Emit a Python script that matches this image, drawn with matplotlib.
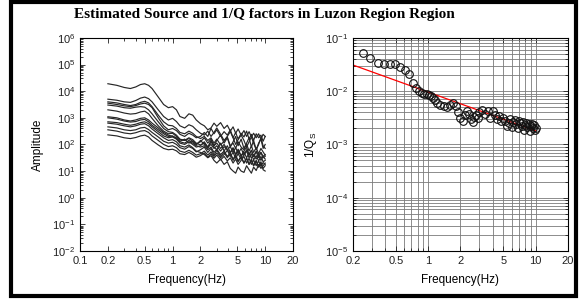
import matplotlib.pyplot as plt
import matplotlib.ticker as mticker
from matplotlib.patches import Rectangle

# Source spectra (left panel): frequency in Hz, amplitude as log10 values.
spec_freq = [0.2, 0.25, 0.3, 0.35, 0.4, 0.45, 0.5, 0.55, 0.6, 0.7, 0.8, 0.9, 1.0, 1.1,
             1.2, 1.35, 1.5, 1.65, 1.8, 2.0, 2.2, 2.4, 2.6, 2.8, 3.0, 3.3, 3.6, 3.9,
             4.2, 4.5, 4.8, 5.1, 5.5, 5.9, 6.3, 6.7, 7.1, 7.5, 8.0, 8.5, 9.0, 9.5, 10.0]

spec_log_amp = [
    [4.28, 4.22, 4.14, 4.10, 4.16, 4.25, 4.28, 4.22, 4.10, 3.78, 3.50, 3.38, 3.42, 3.30,
     3.05, 2.98, 3.15, 3.10, 2.92, 2.78, 2.70, 2.55, 2.62, 2.80, 2.68, 2.82, 2.60, 2.72,
     2.50, 2.66, 2.42, 2.58, 2.35, 2.52, 2.30, 2.48, 2.28, 2.42, 2.25, 2.40, 2.20, 2.38, 2.30],
    [3.70, 3.66, 3.60, 3.58, 3.65, 3.74, 3.78, 3.72, 3.60, 3.30, 3.05, 2.92, 2.98, 2.86,
     2.70, 2.62, 2.74, 2.68, 2.55, 2.42, 2.35, 2.50, 2.30, 2.45, 2.62, 2.38, 2.15, 2.30,
     2.48, 2.25, 2.00, 2.18, 2.35, 2.15, 1.90, 2.10, 2.28, 2.05, 1.80, 2.00, 2.25, 1.95, 1.85],
    [3.60, 3.56, 3.50, 3.46, 3.50, 3.58, 3.62, 3.56, 3.42, 3.10, 2.85, 2.72, 2.70, 2.60,
     2.45, 2.40, 2.50, 2.42, 2.30, 2.22, 2.30, 2.15, 2.25, 2.05, 2.20, 1.98, 2.12, 2.28,
     1.95, 2.05, 1.85, 2.10, 1.90, 1.80, 2.02, 1.75, 1.95, 1.70, 1.88, 1.65, 1.85, 1.72, 1.60],
    [3.55, 3.50, 3.45, 3.42, 3.46, 3.52, 3.55, 3.50, 3.38, 3.00, 2.70, 2.55, 2.60, 2.52,
     2.38, 2.30, 2.42, 2.35, 2.25, 2.30, 2.45, 2.30, 2.60, 2.40, 2.55, 2.30, 2.48, 2.35,
     2.55, 2.25, 2.45, 2.20, 2.42, 2.28, 2.50, 2.20, 2.38, 2.15, 2.40, 2.25, 2.35, 2.12, 2.30],
    [3.48, 3.44, 3.38, 3.36, 3.40, 3.42, 3.40, 3.30, 3.15, 2.85, 2.60, 2.48, 2.45, 2.35,
     2.20, 2.15, 2.25, 2.18, 2.05, 1.98, 2.05, 1.90, 2.00, 1.85, 1.95, 1.75, 1.92, 1.80,
     1.68, 1.85, 1.60, 1.78, 1.55, 1.72, 1.50, 1.68, 1.48, 1.62, 1.45, 1.60, 1.40, 1.55, 1.45],
    [3.30, 3.25, 3.18, 3.14, 3.16, 3.22, 3.25, 3.15, 2.98, 2.70, 2.50, 2.40, 2.42, 2.30,
     2.18, 2.15, 2.22, 2.12, 2.02, 2.10, 2.25, 2.05, 2.20, 1.95, 2.15, 2.35, 2.05, 2.25,
     1.90, 2.10, 2.30, 1.95, 2.20, 1.85, 2.05, 2.25, 1.90, 2.15, 1.80, 2.05, 2.20, 1.85, 2.00],
    [3.04, 3.00, 2.92, 2.88, 2.92, 2.98, 3.00, 2.92, 2.80, 2.62, 2.45, 2.35, 2.30, 2.25,
     2.12, 2.20, 2.05, 2.12, 1.98, 2.15, 2.00, 1.85, 2.10, 1.90, 1.80, 2.05, 1.75, 1.95,
     1.70, 1.88, 1.62, 1.82, 1.58, 1.75, 1.90, 1.60, 1.78, 1.55, 1.72, 1.50, 1.70, 1.55, 1.62],
    [3.00, 2.95, 2.88, 2.84, 2.86, 2.92, 2.94, 2.85, 2.72, 2.55, 2.40, 2.30, 2.32, 2.22,
     2.10, 2.05, 2.15, 2.05, 1.95, 1.90, 1.95, 1.80, 1.90, 1.70, 1.82, 1.62, 1.75, 1.55,
     1.68, 1.45, 1.60, 1.38, 1.55, 1.30, 1.48, 1.25, 1.40, 1.20, 1.38, 1.15, 1.30, 1.10, 1.20],
    [2.85, 2.82, 2.76, 2.72, 2.76, 2.82, 2.85, 2.78, 2.66, 2.48, 2.32, 2.25, 2.28, 2.20,
     2.05, 2.00, 2.10, 2.00, 1.90, 1.95, 2.10, 1.90, 2.15, 1.95, 2.05, 1.85, 2.00, 1.80,
     1.92, 1.70, 1.88, 1.65, 1.85, 1.60, 1.80, 1.62, 1.78, 1.55, 1.75, 1.60, 1.70, 1.50, 1.55],
    [2.80, 2.76, 2.70, 2.66, 2.70, 2.76, 2.78, 2.70, 2.58, 2.40, 2.25, 2.15, 2.18, 2.10,
     1.95, 1.90, 1.98, 1.88, 1.75, 1.70, 1.62, 1.50, 1.58, 1.40, 1.30, 1.45, 1.25, 1.35,
     1.10, 1.00, 0.92, 1.15, 1.00, 0.95, 1.20, 1.05, 0.92, 1.15, 1.02, 1.25, 1.10, 1.20, 1.30],
    [2.66, 2.62, 2.55, 2.52, 2.55, 2.62, 2.64, 2.56, 2.45, 2.28, 2.12, 2.05, 2.08, 2.00,
     1.88, 1.82, 1.92, 1.85, 1.72, 1.80, 1.90, 1.70, 1.85, 1.60, 1.78, 1.55, 1.70, 1.50,
     1.65, 1.40, 1.58, 1.35, 1.52, 1.30, 1.48, 1.25, 1.45, 1.20, 1.40, 1.15, 1.35, 1.05, 1.00],
    [2.55, 2.50, 2.43, 2.40, 2.44, 2.50, 2.52, 2.45, 2.32, 2.15, 2.00, 1.92, 1.95, 1.88,
     1.75, 1.70, 1.78, 1.70, 1.60, 1.65, 1.75, 1.60, 1.72, 1.55, 1.68, 1.50, 1.62, 1.78,
     1.55, 1.70, 1.48, 1.65, 1.45, 1.60, 1.75, 1.50, 1.65, 1.42, 1.58, 1.38, 1.55, 1.35, 1.40],
    [2.36, 2.32, 2.25, 2.22, 2.26, 2.32, 2.35, 2.28, 2.15, 1.98, 1.85, 1.80, 1.82, 1.76,
     1.65, 1.62, 1.70, 1.62, 1.52, 1.58, 1.68, 1.52, 1.65, 1.48, 1.60, 1.42, 1.55, 1.38,
     1.50, 1.30, 1.45, 1.25, 1.40, 1.55, 1.30, 1.48, 1.25, 1.42, 1.20, 1.38, 1.18, 1.32, 1.25],
]

# 1/Qs estimates (right panel)
q_freq = [0.25, 0.29, 0.34, 0.39, 0.44, 0.49, 0.55, 0.61, 0.66, 0.72, 0.77, 0.82, 0.87,
          0.92, 0.97, 1.02, 1.07, 1.12, 1.17, 1.22, 1.3, 1.4, 1.5, 1.6, 1.7, 1.8, 1.9,
          2.0, 2.1, 2.2, 2.3, 2.4, 2.5, 2.6, 2.7, 2.8, 2.9, 3.0, 3.2, 3.4, 3.6, 3.8,
          4.0, 4.2, 4.4, 4.6, 4.8, 5.0, 5.2, 5.4, 5.6, 5.8, 6.0, 6.2, 6.4, 6.6, 6.8,
          7.0, 7.2, 7.4, 7.6, 7.8, 8.0, 8.2, 8.4, 8.6, 8.8, 9.0, 9.2, 9.4, 9.6, 9.8, 10.0]
q_inv = [0.052, 0.042, 0.034, 0.033, 0.033, 0.032, 0.029, 0.025, 0.021, 0.0145, 0.0115,
         0.0100, 0.0094, 0.0090, 0.0088, 0.0084, 0.0080, 0.0076, 0.0068, 0.0060, 0.0055,
         0.0052, 0.0050, 0.0056, 0.0060, 0.0052, 0.0041, 0.0032, 0.0028, 0.0036, 0.0042,
         0.0038, 0.0030, 0.0026, 0.0033, 0.0036, 0.0031, 0.0040, 0.0045, 0.0038, 0.0042,
         0.0032, 0.0043, 0.0036, 0.0030, 0.0034, 0.0028, 0.0032, 0.0027, 0.0022, 0.0025,
         0.0030, 0.0021, 0.0026, 0.0029, 0.0024, 0.0020, 0.0027, 0.0025, 0.0022, 0.0026,
         0.0019, 0.0023, 0.0025, 0.0021, 0.0024, 0.0018, 0.0022, 0.0024, 0.0020, 0.0023,
         0.0019, 0.0020]

# fitted power law end points
fit_freq = [0.2, 10.0]
fit_inv = [0.031, 0.0018]

left_xticks = [0.1, 0.2, 0.5, 1, 2, 5, 10, 20]
right_xticks = [0.2, 0.5, 1, 2, 5, 10, 20]

plt.rcParams['font.family'] = ['Liberation Sans', 'DejaVu Sans']
plt.rcParams['mathtext.fontset'] = 'custom'
plt.rcParams['mathtext.rm'] = 'Liberation Sans'
plt.rcParams['mathtext.it'] = 'Liberation Sans:italic'

fig = plt.figure(figsize=(5.82, 3.06), dpi=100)
fig.patch.set_facecolor('white')

fig.patches.append(Rectangle((0.019, 0.033), 0.971, 0.960, transform=fig.transFigure,
                             fill=False, edgecolor='black', linewidth=3))

fig.text(0.455, 0.952, "Estimated Source and 1/Q factors in Luzon Region Region",
         ha='center', va='center', fontsize=11, fontweight='bold',
         family=['Liberation Serif', 'DejaVu Serif'])

ax1 = fig.add_axes([0.1375, 0.180, 0.366, 0.696])
ax2 = fig.add_axes([0.6065, 0.180, 0.3694, 0.696])

for row in spec_log_amp:
    ax1.plot(spec_freq, [10 ** v for v in row], color='#262626', linewidth=0.85)

ax2.plot(fit_freq, fit_inv, color='red', linewidth=0.9, zorder=2)
ax2.plot(q_freq, q_inv, linestyle='none', marker='o', markersize=5.5,
         markerfacecolor='none', markeredgecolor='#111111', markeredgewidth=0.8, zorder=3)

for ax in (ax1, ax2):
    ax.set_xscale('log')
    ax.set_yscale('log')
    ax.tick_params(which='both', direction='in', top=True, right=True, labelsize=8,
                   width=0.6, colors='#222222')
    ax.tick_params(which='major', length=3.5)
    ax.tick_params(which='minor', length=2)
    ax.yaxis.set_major_locator(mticker.LogLocator(base=10, numticks=20))
    ax.yaxis.set_minor_locator(mticker.LogLocator(base=10, subs=range(2, 10), numticks=20))
    ax.xaxis.set_minor_locator(mticker.LogLocator(base=10, subs=range(2, 10), numticks=20))
    ax.xaxis.set_minor_formatter(mticker.NullFormatter())
    ax.set_xlabel("Frequency(Hz)", fontsize=8.5, labelpad=6)
    for s in ax.spines.values():
        s.set_linewidth(0.8)

ax1.set_xlim(0.1, 20)
ax1.set_ylim(1e-2, 1e6)
ax1.set_xticks(left_xticks)
ax1.set_xticklabels([str(t) for t in left_xticks])
ax1.set_ylabel("Amplitude", fontsize=8.5, labelpad=6)

ax2.set_xlim(0.2, 20)
ax2.set_ylim(1e-5, 1e-1)
ax2.set_xticks(right_xticks)
ax2.set_xticklabels([str(t) for t in right_xticks])
ax2.set_ylabel("1/Q$_\\mathrm{S}$", fontsize=8.5, labelpad=4)
ax2.grid(True, which='both', color='#7a7a7a', linewidth=0.6)
ax2.set_axisbelow(True)

fig.savefig("out.png", dpi=100)
